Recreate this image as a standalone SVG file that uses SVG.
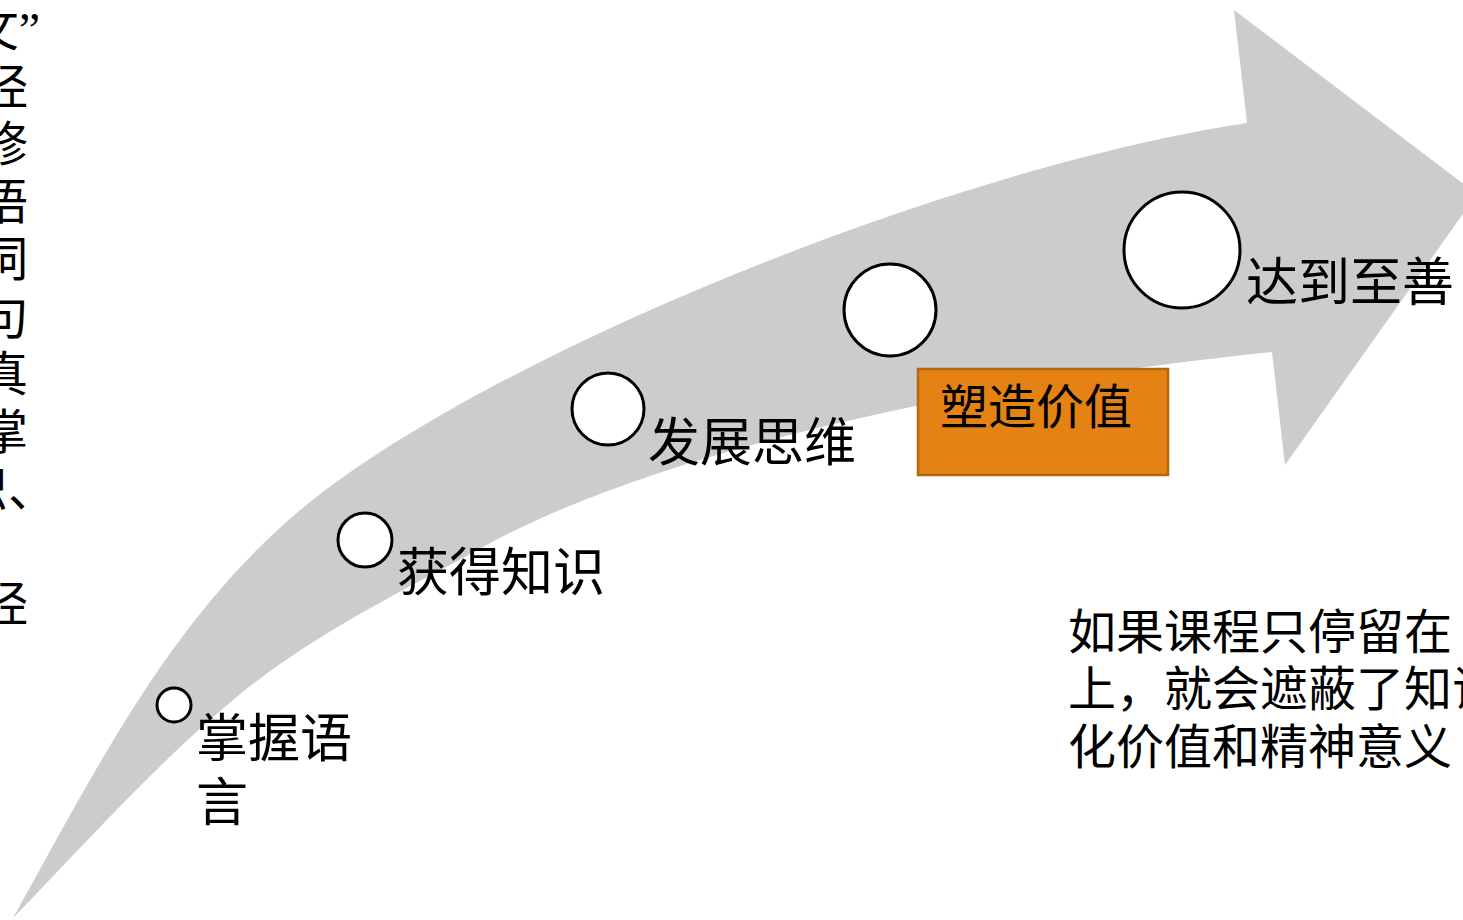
<svg xmlns="http://www.w3.org/2000/svg" width="1463" height="920" viewBox="0 0 1463 920">
<style>
.t{font-family:"Liberation Serif","Noto Sans CJK SC",serif;fill:#000;}
.lbl{font-size:52px;}
.body{font-size:48px;}
.dot{fill:#fff;stroke:#000;stroke-width:3;}
</style>
<rect width="1463" height="920" fill="#fff"/>
<g id="arrow">
<path fill="#CCCCCC" d="M13,918 C91,778 164,632 283,525 C461,364 950,167 1247,123 L1234,10 L1477,194 L1285,465 L1272,352 C1043,375 684,436 483,547 C397,594 308,637 233,700 C154,766 85,844 13,918 Z"/>
</g>
<g id="left-text" class="t body">
<text x="40" y="46" text-anchor="end">文”</text>
<text x="28" y="103.5" text-anchor="end">经</text>
<text x="28" y="161" text-anchor="end">修</text>
<text x="28" y="218.5" text-anchor="end">语</text>
<text x="28" y="276" text-anchor="end">词</text>
<text x="28" y="333.5" text-anchor="end">句</text>
<text x="28" y="391" text-anchor="end">真</text>
<text x="28" y="448.5" text-anchor="end">掌</text>
<text x="56" y="506" text-anchor="end">识、</text>
<text x="28" y="621" text-anchor="end">经</text>
</g>
<g id="n1">
<circle class="dot" cx="174" cy="705" r="17"/>
<text class="t lbl" x="196" y="757">掌握语</text>
<text class="t lbl" x="196" y="821">言</text>
</g>
<g id="n2">
<circle class="dot" cx="365" cy="540" r="27"/>
<text class="t lbl" x="397" y="591">获得知识</text>
</g>
<g id="n3">
<circle class="dot" cx="608" cy="409" r="36"/>
<text class="t lbl" x="648" y="461">发展思维</text>
</g>
<g id="n4">
<circle class="dot" cx="890" cy="310" r="46"/>
<rect x="918" y="369" width="250" height="106" fill="#E48314" stroke="#B4670F" stroke-width="2.5"/>
<text class="t body" x="940" y="424">塑造价值</text>
</g>
<g id="n5">
<circle class="dot" cx="1182" cy="250" r="58"/>
<text class="t lbl" x="1246" y="301">达到至善</text>
</g>
<g id="note" class="t body">
<text x="1068" y="649">如果课程只停留在</text>
<text x="1068" y="706">上，就会遮蔽了知识</text>
<text x="1068" y="764">化价值和精神意义</text>
</g>
<g id="connectors"/>
</svg>
